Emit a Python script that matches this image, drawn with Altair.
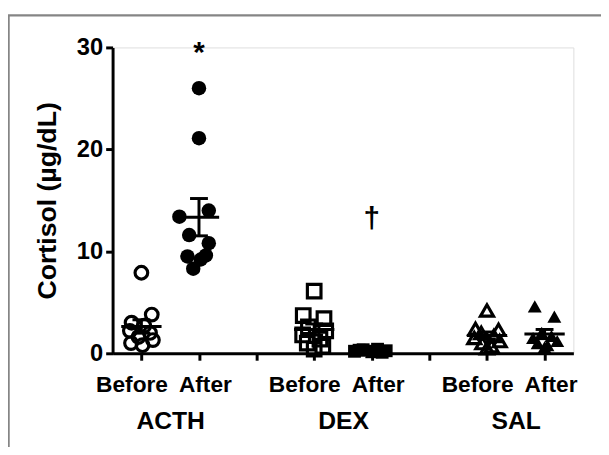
import altair as alt
import pandas as pd
import numpy as np

# ---------------- data ----------------
groups = ["ACTH", "ACTH", "DEX", "DEX", "SAL", "SAL"]
phases = ["Before", "After", "Before", "After", "Before", "After"]
positions = [1, 2, 4, 5, 7, 8]
shapes = ["circle", "circle", "square", "square", "triangle-up", "triangle-up"]

acth_before = [7.9, 3.8, 3.0, 2.7, 2.2, 2.0, 1.6, 1.3, 1.0, 0.8]
acth_after = [26.0, 21.1, 13.4, 14.0, 11.6, 10.8, 9.5, 9.6, 9.2, 8.3]
dex_before = [6.1, 3.7, 3.4, 2.6, 2.2, 1.8, 1.4, 1.0, 0.7, 0.4]
dex_after = [0.2, 0.35, 0.15, 0.4, 0.25, 0.3, 0.1, 0.2]
sal_before = [4.2, 2.4, 2.3, 2.0, 1.7, 1.5, 1.2, 1.0, 0.7, 0.5]
sal_after = [4.6, 3.6, 2.0, 1.7, 1.5, 1.2, 1.0, 0.8, 0.6]

# horizontal scatter of the points (in category units)
acth_before_jit = [0.0, 0.18, -0.17, 0.05, -0.2, 0.15, -0.05, 0.2, -0.18, 0.02]
acth_after_jit = [0.0, 0.0, -0.34, 0.17, -0.17, 0.17, -0.2, 0.12, 0.03, -0.1]
dex_before_jit = [0.0, -0.19, 0.17, -0.1, 0.2, -0.2, 0.1, -0.12, 0.15, 0.0]
dex_after_jit = [-0.3, -0.15, 0.0, 0.1, 0.25, -0.22, 0.18, 0.05]
sal_before_jit = [0.0, -0.2, 0.2, -0.1, 0.12, -0.22, 0.22, -0.08, 0.08, 0.0]
sal_after_jit = [-0.17, 0.17, -0.05, 0.12, -0.2, 0.22, -0.12, 0.05, 0.0]

tick_values = [1, 2, 3, 4, 5, 6, 7, 8]
group_centers = [1.5, 4.5, 7.5]
group_names = ["ACTH", "DEX", "SAL"]
marks_x = [2, 5]
marks_y = [29.4, 13.2]
marks_text = ["*", "\u2020"]

all_values = [acth_before, acth_after, dex_before, dex_after, sal_before, sal_after]
all_jit = [acth_before_jit, acth_after_jit, dex_before_jit, dex_after_jit,
           sal_before_jit, sal_after_jit]

# ---------------- styles ----------------
open_size = {"circle": 165, "square": 190, "triangle-up": 175}
filled_size = {"circle": 215, "square": 170, "triangle-up": 200}
FONT = "Liberation Sans"
MEAN_HALF = 0.35
CAP_HALF = 0.155

rows = []
stats = []
for g, ph, pos, sh, vals, jit in zip(groups, phases, positions, shapes, all_values, all_jit):
    for v, j in zip(vals, jit):
        rows.append({"x": pos + j, "v": v, "shape": sh, "phase": ph,
                     "sz": (open_size if ph == "Before" else filled_size)[sh]})
    arr = np.array(vals)
    m = arr.mean()
    s = arr.std(ddof=1) / np.sqrt(len(arr))
    stats.append({"x": pos, "xl": pos - MEAN_HALF, "xr": pos + MEAN_HALF,
                  "cl": pos - CAP_HALF, "cr": pos + CAP_HALF,
                  "v": m, "lo": m - s, "hi": m + s})

df = pd.DataFrame(rows)
st = pd.DataFrame(stats)
ann = pd.DataFrame({"x": marks_x, "v": marks_y, "t": marks_text})
grp = pd.DataFrame({"x": group_centers, "v": [0, 0, 0], "t": group_names})

xscale = alt.Scale(domain=[0.5, 8.5], nice=False, zero=False)
yscale = alt.Scale(domain=[0, 30], nice=False)

y_axis = alt.Axis(values=[0, 10, 20, 30], title="Cortisol (\u00b5g/dL)",
                  titleFontSize=27, titleFontWeight="bold", titleFont=FONT,
                  titlePadding=15, titleColor="black",
                  labelFontSize=24, labelFontWeight="bold", labelFont=FONT,
                  labelColor="black", labelPadding=3, labelFlush=False,
                  tickSize=7, tickWidth=3, tickColor="black",
                  domainWidth=3, domainColor="black", grid=False)


def Y(field):
    return alt.Y(field, scale=yscale, axis=y_axis)


x_main_axis = alt.Axis(
    values=tick_values, title=None, grid=False,
    labelExpr="indexof([1,4,7], datum.value) >= 0 ? 'Before' : (indexof([2,5,8], datum.value) >= 0 ? 'After' : '')",
    labelFontSize=23, labelFontWeight="bold", labelFont=FONT, labelColor="black",
    labelPadding=14, labelFlush=False, labelOverlap=False, labelBound=False,
    labelOffset={"condition": {"test": "indexof([1,4,7], datum.value) >= 0", "value": -10},
                 "value": 6},
    tickSize=7, tickWidth=3, tickColor="black",
    domainWidth=3, domainColor="black", orient="bottom")

x_group_axis = alt.Axis(
    values=group_centers, title=None, grid=False, ticks=False, domain=False,
    labelExpr="datum.value == 1.5 ? 'ACTH' : (datum.value == 4.5 ? 'DEX' : 'SAL')",
    labelFontSize=25, labelFontWeight="bold", labelFont=FONT, labelColor="black",
    labelPadding=56, labelFlush=False, labelOverlap=False, orient="bottom")

one = pd.DataFrame({"a": [0]})
frame = alt.Chart(one).mark_rect(fillOpacity=0, stroke="#858585", strokeWidth=2.5).encode(
    x=alt.value(-105.5), x2=alt.value(700), y=alt.value(-32.5), y2=alt.value(600))

sem = alt.Chart(st).mark_rule(color="black", strokeWidth=3).encode(
    x=alt.X("x:Q", scale=xscale, axis=None), y=Y("hi:Q"), y2="lo:Q")
mean = alt.Chart(st).mark_rule(color="black", strokeWidth=3).encode(
    x=alt.X("xl:Q", scale=xscale, axis=None), x2="xr:Q", y=Y("v:Q"))
cap_hi = alt.Chart(st).mark_rule(color="black", strokeWidth=3).encode(
    x=alt.X("cl:Q", scale=xscale, axis=None), x2="cr:Q", y=Y("hi:Q"))
cap_lo = alt.Chart(st).mark_rule(color="black", strokeWidth=3).encode(
    x=alt.X("cl:Q", scale=xscale, axis=None), x2="cr:Q", y=Y("lo:Q"))

open_pts = alt.Chart(df[df.phase == "Before"]).mark_point(
    filled=False, color="black", strokeWidth=3.2, opacity=1).encode(
    x=alt.X("x:Q", scale=xscale, axis=x_main_axis),
    y=Y("v:Q"),
    shape=alt.Shape("shape:N", scale=None),
    size=alt.Size("sz:Q", scale=None))
filled_pts = alt.Chart(df[df.phase == "After"]).mark_point(
    filled=True, color="black", opacity=1).encode(
    x=alt.X("x:Q", scale=xscale, axis=None),
    y=Y("v:Q"),
    shape=alt.Shape("shape:N", scale=None),
    size=alt.Size("sz:Q", scale=None))

text = alt.Chart(ann).mark_text(fontSize=30, fontWeight="bold", font=FONT,
                                 color="black", baseline="middle").encode(
    x=alt.X("x:Q", scale=xscale, axis=None), y=Y("v:Q"), text="t:N")

grp_layer = alt.Chart(grp).mark_point(opacity=0).encode(
    x=alt.X("x:Q", scale=xscale, axis=x_group_axis), y=Y("v:Q"))

chart = alt.layer(
    frame, open_pts, sem, cap_hi, cap_lo, mean, filled_pts, text, grp_layer
).resolve_axis(x="independent").properties(
    width=467, height=310, autosize="none",
    padding={"left": 106, "top": 37, "right": 28, "bottom": 92},
    background="white"
).configure_view(strokeWidth=0, stroke="transparent").configure(font=FONT)

chart.save("out.html", embed_options={"renderer": "svg", "actions": False})
